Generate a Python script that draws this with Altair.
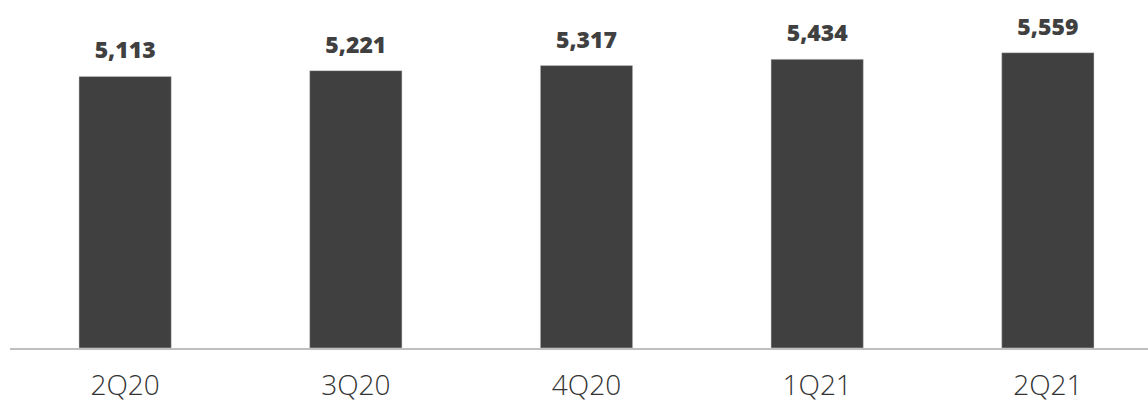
import altair as alt
import pandas as pd

quarters = ["2Q20", "3Q20", "4Q20", "1Q21", "2Q21"]
values = [5113, 5221, 5317, 5434, 5559]
labels = ["5,113", "5,221", "5,317", "5,434", "5,559"]

df = pd.DataFrame({"q": quarters, "v": values, "lab": labels})

W = 1138
H = 348

x = alt.X("q:N", sort=quarters, title=None,
          scale=alt.Scale(range=[69, 1084], paddingInner=0.6, paddingOuter=0),
          axis=alt.Axis(domain=False, ticks=False, tickSize=0, labelAngle=0,
                        labelFont="Open Sans", labelFontSize=28, labelFontWeight=300,
                        labelColor="#333333", labelPadding=24, grid=False))
y = alt.Y("v:Q", title=None, scale=alt.Scale(domain=[0, 6551], nice=False),
          axis=None)

bars = alt.Chart(df).mark_bar(color="#404040", stroke="#d0d0d0", strokeWidth=0.5).encode(x=x, y=y)
text = alt.Chart(df).mark_text(font="Open Sans", fontSize=23, fontWeight=800,
                               color="#404040", baseline="alphabetic", dy=-18).encode(
    x=alt.X("q:N", sort=quarters), y="v:Q", text="lab:N")
base = alt.Chart(df).mark_rule(color="#bfbfbf", strokeWidth=2).encode(
    x=alt.value(0), x2=alt.value(W), y=alt.value(H + 1))

chart = alt.layer(bars, text, base).properties(
    width=W, height=H,
    background="white",
    autosize=alt.AutoSizeParams(type="none"),
    padding={"left": 10, "top": 0, "right": 0, "bottom": 53},
).configure_view(strokeWidth=0, stroke="transparent")

chart.save("out.html", embed_options={"renderer": "svg", "actions": False})
